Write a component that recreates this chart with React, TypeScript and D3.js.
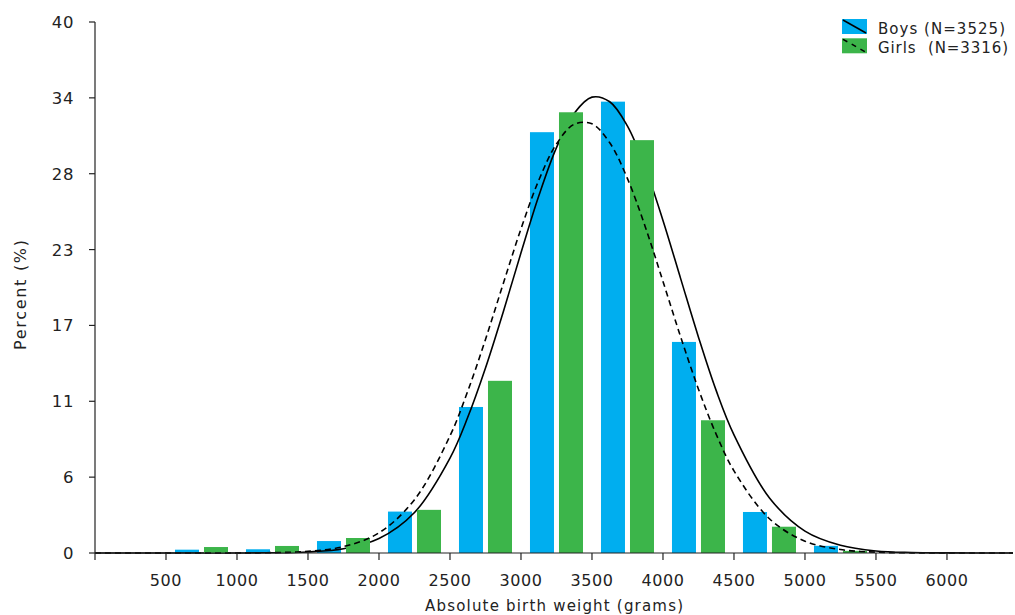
import React from "react";
import * as d3 from "d3";

// ---- data ----
const binStarts = [500, 1000, 1500, 2000, 2500, 3000, 3500, 4000, 4500, 5000];
const binWidth = 500;
const boysPct = [0.25, 0.28, 0.9, 3.12, 11.0, 31.7, 34.0, 15.9, 3.09, 0.54];
const girlsPct = [0.45, 0.53, 1.13, 3.25, 12.97, 33.2, 31.1, 10.0, 1.98, 0.16];

const curveGrams = [
  0, 250, 500, 750, 1000, 1250, 1500, 1750, 2000, 2250, 2500,
  2625, 2750, 2875, 3000, 3125, 3250, 3375, 3500, 3625, 3750, 3875, 4000, 4125, 4250, 4375, 4500,
  4750, 5000, 5250, 5500, 5750, 6000, 6250, 6500,
];
const boysCurve = [
  0, 0, 0, 0, 0.003, 0.016, 0.08, 0.32, 1.09, 3.05, 7.15,
  10.22, 13.94, 18.16, 22.61, 26.89, 30.54, 33.13, 34.34, 33.99, 32.15, 29.04, 25.05, 20.65, 16.26, 12.23, 8.9,
  4.15, 1.65, 0.58, 0.15, 0.032, 0.006, 0, 0,
];
const girlsCurve = [
  0, 0, 0, 0, 0.005, 0.027, 0.125, 0.48, 1.52, 4.02, 8.82,
  12.19, 16.09, 20.29, 24.42, 28.07, 30.81, 32.3, 32.33, 30.9, 28.2, 24.58, 20.46, 16.26, 12.34, 8.94, 6.19,
  2.58, 0.89, 0.26, 0.062, 0.012, 0.002, 0, 0,
];

const xTicks = [0, 500, 1000, 1500, 2000, 2500, 3000, 3500, 4000, 4500, 5000, 5500, 6000];
const xTickLabels = ["", "500", "1000", "1500", "2000", "2500", "3000", "3500", "4000", "4500", "5000", "5500", "6000"];
const yTickLabels = ["0", "6", "11", "17", "23", "28", "34", "40"];
const yMax = 40;

const seriesNames = ["Boys", "Girls"];
const legendLabels = ["Boys (N=3525)", "Girls  (N=3316)"];
const xTitle = "Absolute birth weight (grams)";
const yTitle = "Percent (%)";

// ---- layout ----
const W = 1015, H = 615;
const left = 95, right = 1013, top = 22, bottom = 553;
const BLUE = "#00aeef";
const GREEN = "#3cb54a";
const TEXT = "#222";
const FONT = "'DejaVu Sans', Verdana, sans-serif";

export default function App() {
  const x = d3.scaleLinear().domain([0, 6465]).range([left, right]);
  const y = d3.scaleLinear().domain([0, yMax]).range([bottom, top]);
  const binPx = x(binWidth) - x(0);
  const sub = d3.scaleBand().domain(seriesNames).range([0, binPx]).paddingInner(0.1724).paddingOuter(0.31);
  const yTicks = yTickLabels.map((_, i) => (yMax * i) / (yTickLabels.length - 1));

  const line = d3
    .line<number>()
    .x((_, i) => x(curveGrams[i]))
    .y((d) => y(d))
    .curve(d3.curveCatmullRom.alpha(0.5));

  const bars = (vals: number[], name: string, color: string) =>
    vals.map((v, i) => (
      <rect
        key={name + i}
        x={x(binStarts[i]) + (sub(name) as number)}
        y={y(v)}
        width={sub.bandwidth()}
        height={y(0) - y(v)}
        fill={color}
      />
    ));

  return (
    <svg width={W} height={H} style={{ position: "absolute", left: 0, top: 0, background: "#fff" }} fontFamily={FONT}>
      <defs>
        <clipPath id="plotClip">
          <rect x={left} y={0} width={right - left} height={bottom + 2} />
        </clipPath>
      </defs>
      {bars(boysPct, "Boys", BLUE)}
      <path d={line(boysCurve) || ""} fill="none" stroke="#000" strokeWidth={1.6} clipPath="url(#plotClip)" />
      {bars(girlsPct, "Girls", GREEN)}
      <path d={line(girlsCurve) || ""} fill="none" stroke="#000" strokeWidth={1.6} strokeDasharray="6,4" clipPath="url(#plotClip)" />

      {/* axes */}
      <line x1={left} x2={left} y1={top} y2={bottom} stroke="#222" strokeWidth={1.2} />
      <line x1={left} x2={right} y1={bottom} y2={bottom} stroke="#222" strokeWidth={1.2} />
      {yTicks.map((t, i) => (
        <g key={"yt" + i}>
          <line x1={left - 6} x2={left} y1={y(t)} y2={y(t)} stroke="#222" strokeWidth={1.2} />
          <text x={left - 21} y={y(t)} dy="0.36em" textAnchor="end" fontSize={16.5} fill={TEXT} letterSpacing={0.6}>
            {yTickLabels[i]}
          </text>
        </g>
      ))}
      {xTicks.map((t, i) => (
        <g key={"xt" + i}>
          <line x1={x(t)} x2={x(t)} y1={bottom} y2={bottom + 7} stroke="#222" strokeWidth={1.2} />
          <text x={x(t)} y={585.5} textAnchor="middle" fontSize={16} fill={TEXT} letterSpacing={0.6}>
            {xTickLabels[i]}
          </text>
        </g>
      ))}
      <text x={(left + right) / 2} y={611} textAnchor="middle" fontSize={15} fill={TEXT} textLength={258} lengthAdjust="spacing">
        {xTitle}
      </text>
      <text transform={`translate(26,295) rotate(-90)`} textAnchor="middle" fontSize={16} fill={TEXT} textLength={110} lengthAdjust="spacing">
        {yTitle}
      </text>

      {/* legend */}
      {legendLabels.map((lab, i) => {
        const ly = 19 + i * 19.3;
        return (
          <g key={"lg" + i}>
            <rect x={842} y={ly} width={25} height={15} fill={i === 0 ? BLUE : GREEN} />
            <line
              x1={843}
              y1={ly + 1}
              x2={866}
              y2={ly + 14}
              stroke="#000"
              strokeWidth={1.5}
              strokeDasharray={i === 0 ? undefined : "5,5"}
            />
            <text
              x={878}
              y={ly + 15}
              fontSize={15}
              fill={TEXT}
              textLength={i === 0 ? 127 : 130}
              lengthAdjust="spacing"
              style={{ whiteSpace: "pre" }}
            >
              {lab}
            </text>
          </g>
        );
      })}
    </svg>
  );
}
